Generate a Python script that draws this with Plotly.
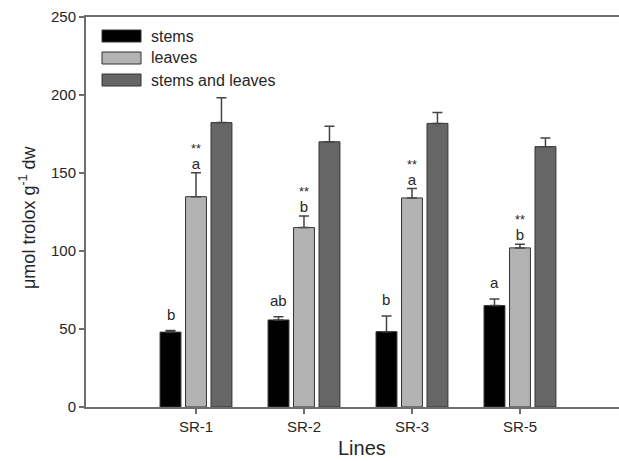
import plotly.graph_objects as go

lines = ["SR-1", "SR-2", "SR-3", "SR-5"]
series_names = ["stems", "leaves", "stems and leaves"]
stems = [48, 55.8, 48.3, 65]
stems_err = [1, 2, 10, 4.2]
leaves = [134.8, 115, 134, 102]
leaves_err = [15.4, 7.5, 6, 2.3]
both = [182.3, 170, 181.8, 166.9]
both_err = [16, 10, 7, 5.5]
stems_letters = ["b", "ab", "b", "a"]
leaves_letters = ["a", "b", "a", "b"]
leaves_stars = ["**", "**", "**", "**"]
y_ticks = [0, 50, 100, 150, 200, 250]

colors = ["#000000", "#b3b3b3", "#666666"]
values = [stems, leaves, both]
errs = [stems_err, leaves_err, both_err]

FONT = "Arial, Liberation Sans, sans-serif"
TXT = "#262626"
fig = go.Figure()
for name, v, e, c in zip(series_names, values, errs, colors):
    fig.add_trace(go.Bar(
        x=lines, y=v, name=name, marker_color=c,
        marker_line_color="#333333", marker_line_width=1,
        error_y=dict(type="data", array=e, arrayminus=[0]*len(e), symmetric=False,
                     color="#444444", thickness=1.5, width=5),
        showlegend=False,
    ))

offs = [-0.236, 0.0, 0.236]
annotations = []
for i, cat in enumerate(lines):
    annotations.append(dict(x=i + offs[0], y=stems[i] + stems_err[i], xref="x", yref="y",
                            text=stems_letters[i], showarrow=False, yanchor="bottom",
                            yshift=6, font=dict(family=FONT, size=15, color=TXT)))
    annotations.append(dict(
        x=i + offs[1], y=leaves[i] + leaves_err[i], xref="x", yref="y",
        text=f"{leaves_stars[i]}<br>"
             f"<span style='font-size:15px'>{leaves_letters[i]}</span>",
        showarrow=False, yanchor="bottom", yshift=-1,
        font=dict(family=FONT, size=12.6, color=TXT)))

annotations.append(dict(x=362, y=460.5, text="Lines", showarrow=False, yanchor="bottom",
                        font=dict(family=FONT, size=20, color=TXT)))
annotations.append(dict(x=28, y=217, text="μmol trolox g<sup>-1</sup> dw", showarrow=False,
                        textangle=-90, font=dict(family=FONT, size=18, color=TXT)))

shapes = []
leg_y = [36, 58, 80]
for name, c, yy in zip(series_names, colors, leg_y):
    shapes.append(dict(type="rect", xref="paper", yref="paper",
                       x0=102, x1=141, y0=yy - 6, y1=yy + 6,
                       fillcolor=c, line=dict(color="#333333", width=1)))
    annotations.append(dict(x=149, y=yy, text=name, showarrow=False, xanchor="left",
                            font=dict(family=FONT, size=16, color=TXT)))

W, H = 619, 461
L, R, T, B = 86, 0, 17, 54
pw, ph = W - L - R, H - T - B
for a in annotations:
    if a.get("xref") != "x":
        a["xref"] = "paper"; a["yref"] = "paper"
        a["x"] = (a["x"] - L) / pw
        a["y"] = (H - B - a["y"]) / ph
        a.setdefault("xanchor", "center")
        a.setdefault("yanchor", "middle")
for s in shapes:
    s["x0"] = (s["x0"] - L) / pw; s["x1"] = (s["x1"] - L) / pw
    y0, y1 = s["y0"], s["y1"]
    s["y0"] = (H - B - y1) / ph; s["y1"] = (H - B - y0) / ph

fig.update_layout(
    width=W, height=H, margin=dict(l=L, r=R, t=T, b=B),
    paper_bgcolor="white", plot_bgcolor="white",
    barmode="group", bargap=0.292, bargroupgap=0.18,
    font=dict(family=FONT, size=15, color=TXT),
    annotations=annotations, shapes=shapes,
    xaxis=dict(range=[-1.0185, 3.917], showline=True, linecolor="#6e6e6e", linewidth=2,
               mirror=True, ticks="outside", ticklen=5, tickcolor="#6e6e6e", tickwidth=1.5,
               showgrid=False, tickfont=dict(family=FONT, size=15, color=TXT)),
    yaxis=dict(range=[0, 250], tickvals=y_ticks, showline=True, linecolor="#6e6e6e", linewidth=2,
               ticks="outside", ticklen=5, tickcolor="#6e6e6e", tickwidth=1.5, showgrid=False,
               zeroline=False, tickfont=dict(family=FONT, size=15, color=TXT)),
)
fig.write_html("out.html", config={"displayModeBar": False},
               post_script="document.body.style.margin='0';document.body.style.overflow='hidden';")
